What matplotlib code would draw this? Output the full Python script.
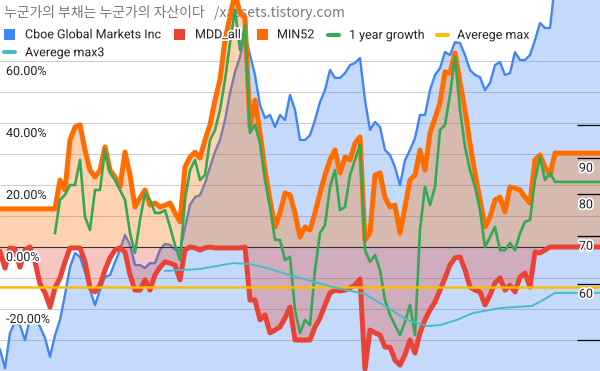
import numpy as np
import matplotlib.pyplot as plt
import matplotlib.patheffects as pe
from matplotlib.patches import Rectangle
from matplotlib.lines import Line2D
from matplotlib.transforms import blended_transform_factory, ScaledTranslation

plt.rcParams['font.family'] = ['Roboto', 'DejaVu Sans']

# weekly samples, the last point is the value carried to the right edge
weeks = list(range(112)) + [120]

cboe = [48.5, 45.7, 51.2, 53.0, 52.5, 50.0, 53.7, 53.7, 52.2, 50.4,
        47.4, 50.8, 53.4, 57.9, 63.3, 66.2, 65.4, 62.3, 58.8, 56.0,
        58.8, 61.3, 61.7, 64.3, 66.9, 70.2, 68.0, 63.7, 63.7, 63.1,
        64.1, 64.1, 66.9, 68.2, 68.0, 66.9, 66.9, 71.8, 77.3, 79.3,
        79.8, 82.9, 87.3, 91.7, 95.3, 101.6, 110.9, 118.6, 124.5, 133.6,
        125.3, 117.5, 106.6, 102.3, 103.3, 99.4, 103.3, 101.6, 110.2, 105.0,
        95.3, 95.3, 96.8, 101.6, 107.7, 111.9, 119.4, 116.4, 116.4, 118.2,
        121.3, 122.1, 124.1, 108.4, 98.4, 101.0, 99.4, 92.3, 90.8, 87.3,
        82.4, 89.3, 92.3, 95.9, 103.3, 103.3, 111.9, 117.5, 120.1, 126.5,
        125.3, 130.6, 130.2, 125.3, 119.4, 117.5, 116.7, 111.9, 114.5, 121.3,
        122.5, 117.5, 118.2, 126.5, 123.3, 123.3, 125.3, 131.5, 138.9, 136.7,
        136.7, 158.0, 158.0]

mdd_all = [-1.6, -6.8, -0.3, -0.6, -6.5, -1.0, 0.0, -4.8, -11.9, -14.8,
           -19.4, -13.2, -10.0, -4.8, -0.3, -0.3, -0.3, -4.8, -13.2, -14.5,
           -12.3, -7.4, -3.5, -1.0, -0.3, -1.6, -9.0, -13.9, -13.9, -10.6,
           -13.9, -9.0, -6.5, -4.8, -5.2, -5.8, -10.6, -1.0, 0.0, -0.3,
           -1.0, -0.3, 0.0, -0.3, -0.3, -0.3, -0.3, -0.3, -0.3, 0.0,
           -17.1, -17.1, -23.5, -21.9, -27.7, -26.8, -25.8, -22.9, -19.4, -30.0,
           -30.0, -30.0, -30.0, -25.8, -22.9, -18.7, -14.8, -13.9, -14.2, -13.9,
           -13.2, -12.3, -10.3, -39.4, -26.8, -27.7, -28.4, -32.3, -32.3, -36.5,
           -38.1, -34.8, -30.0, -34.2, -27.7, -23.5, -20.3, -17.7, -13.9, -10.0,
           -5.8, -3.5, -3.2, -7.4, -12.9, -13.9, -14.5, -18.7, -15.5, -11.6,
           -10.0, -13.9, -12.3, -14.5, -9.7, -8.4, -12.9, -1.6, -1.9, -1.0,
           0.0, 0.0, 0.0]

min52 = [12.3] * 12 + [
    21.6, 18.4, 34.5, 38.7, 39.4, 31.3, 24.8, 22.6, 24.8,
    32.3, 24.8, 22.6, 19.4, 30.6, 23.2, 12.9, 15.8, 18.4, 13.5,
    14.2, 12.9, 13.5, 14.2, 11.0, 8.1, 25.8, 29.0, 30.6, 28.7,
    34.5, 39.4, 47.4, 53.9, 66.8, 74.2, 82.0, 75.5, 73.9, 38.7,
    47.4, 36.8, 24.8, 15.2, 6.5, 11.0, 17.4, 16.8, 11.0, 3.2,
    6.5, 5.5, 11.0, 17.4, 23.2, 28.1, 31.3, 23.9, 29.0, 28.1,
    33.5, 35.5, 2.3, 4.5, 23.2, 23.9, 16.1, 12.9, 13.5, 4.5,
    12.9, 21.6, 23.2, 31.3, 24.8, 36.8, 41.6, 46.5, 56.5, 56.1,
    62.6, 53.2, 44.2, 33.5, 23.9, 15.2, 6.5, 9.7, 15.2, 16.1,
    11.3, 19.4, 19.0, 18.4, 16.1, 14.2, 28.1, 29.7, 25.8, 23.2,
    30.3, 30.3]

growth_1y = [np.nan] * 11 + [
    4.5, 15.2, 16.8, 20.0, 20.0, 28.1, 9.7, 5.5, 18.4, 18.4,
    31.3, 23.9, 21.6, 18.4, 15.2, 4.5, -1.9, 8.7, 17.4, 15.2,
    11.0, 11.0, 11.9, 6.5, 0.6, -4.2, 15.2, 24.8, 28.1, 21.6,
    23.2, 34.5, 37.7, 44.2, 53.9, 65.8, 76.5, 63.5, 71.6, 36.8,
    39.4, 33.5, 21.6, 12.9, 2.3, 2.3, -4.2, -3.2, -20.3, -27.7,
    -23.5, -25.2, -7.4, 4.5, 7.1, 19.4, 24.8, 11.9, 12.9, 23.2,
    28.1, 32.9, -1.0, -4.8, -2.6, -7.4, -17.1, -21.9, -25.2, -28.4,
    -24.2, -18.7, -28.4, 5.5, 19.4, 13.5, 19.4, 37.7, 39.4, 49.0,
    61.3, 44.2, 32.3, 24.8, 19.4, 11.9, 0.0, 3.2, 6.5, -1.0,
    -1.0, 1.3, -1.0, 4.5, 8.1, 8.7, 21.6, 29.0, 21.6, 23.9,
    21.0, 21.0]

avg_max = -12.9

avg_max3_weeks = [33, 40, 46.6, 50, 53.4, 56.6, 60, 66.6, 73, 77.4, 81.4,
                  85.4, 88, 91.4, 94.6, 98, 100, 106.4, 108.6, 111, 120]
avg_max3 = [-7.7, -7.1, -5.2, -5.5, -6.8, -8.4, -10.0, -12.9, -15.2, -19.4, -23.5,
            -25.5, -25.2, -23.5, -21.3, -20.3, -19.7, -19.0, -17.1, -14.8, -14.8]

pct_grid = [-40, -30, -20, -10, 0, 10, 20, 30, 40, 50, 60]
pct_labels = [60, 40, 20, 0, -20]
price_ticks = [50, 60, 70, 80, 90, 100]
price_labels = [60, 70, 80, 90]

BLUE = '#4285F4'
RED = '#EA4335'
ORANGE = '#FF6D01'
GREEN = '#34A853'
YELLOW = '#FBBC04'
CYAN = '#46BDC6'

W, H = 600, 371
fig = plt.figure(figsize=(W / 100, H / 100), dpi=100)
ax_px = fig.add_axes([0, 0, 1, 1])
ax = ax_px.twinx()

ax_px.set_yscale('log')
ax_px.set_ylim(45.29, 149.58)
ax.set_ylim(-40, 79.68)
for a in (ax_px, ax):
    a.set_xlim(0, 120)
    a.set_axis_off()

# gridlines under everything
grid_tr = blended_transform_factory(ax_px.transAxes, ax.transData)
ax_px.hlines(pct_grid, 0, 1, transform=grid_tr, colors='#cccccc', linewidth=0.75, zorder=0)

# price area
ax_px.fill_between(weeks, cboe, 10, color=BLUE, alpha=0.3, linewidth=0, zorder=1)
ax_px.plot(weeks, cboe, color=BLUE, linewidth=1.7, zorder=2, solid_joinstyle='round')

ax_px.text(4 / W, 1 - 17.5 / H, "누군가의 부채는 누군가의 자산이다   /xassets.tistory.com",
           transform=fig.transFigure, family=['Noto Sans CJK KR', 'DejaVu Sans'],
           fontsize=10, color='#7a7a7a', va='baseline', zorder=0)

# percent series
ax.fill_between(weeks, mdd_all, 0, color=RED, alpha=0.3, linewidth=0, zorder=1)
ax.fill_between(weeks, min52, 0, color=ORANGE, alpha=0.3, linewidth=0, zorder=1)
ax.axhline(0, color='#333333', linewidth=0.8, zorder=1.5)
ax.plot(weeks, mdd_all, color=RED, linewidth=3.6, zorder=2, solid_joinstyle='round')
ax.plot(weeks, min52, color=ORANGE, linewidth=3.6, zorder=2.1, solid_joinstyle='round')
ax.plot(weeks, growth_1y, color=GREEN, linewidth=1.9, zorder=2.2, solid_joinstyle='round')
ax.axhline(avg_max, color=YELLOW, linewidth=1.8, zorder=2.3)
ax.plot(avg_max3_weeks, avg_max3, color=CYAN, linewidth=1.4, zorder=2.4)

halo = [pe.withStroke(linewidth=2.5, foreground='white')]
down = ScaledTranslation(0, -14 / 100, fig.dpi_scale_trans)

# left axis labels
for v in pct_labels:
    ax.text(6 / W, v, f"{v:.2f}%", transform=blended_transform_factory(ax.transAxes, ax.transData) + down,
            fontsize=9, color='#222222', ha='left', va='baseline', path_effects=halo, zorder=5)

# right (log) axis ticks and labels
rt = blended_transform_factory(ax.transAxes, ax_px.transData)
ax.hlines(price_ticks, 577 / W, 1, transform=rt, colors='black', linewidth=0.9, zorder=4)
for v in price_labels:
    ax.text(586 / W, v, str(v), transform=rt + down, fontsize=9, color='#222222',
            ha='center', va='baseline', path_effects=halo, zorder=5)

# legend
def px(x, y):
    return x / W, 1 - y / H

legend_items = [
    ('box', BLUE, 4, 34, 25, "Cboe Global Markets Inc"),
    ('box', RED, 174, 34, 195, "MDD_all"),
    ('box', ORANGE, 257, 34, 277, "MIN52"),
    ('line', GREEN, 328, 34.5, 349, "1 year growth"),
    ('line', YELLOW, 437, 34.5, 457, "Averege max"),
    ('line', CYAN, 4, 52, 25, "Averege max3"),
]
for kind, color, mx, my, tx, label in legend_items:
    if kind == 'box':
        x0, y0 = px(mx, my + 5.5)
        fig.add_artist(Rectangle((x0, y0), 11 / W, 11 / H, transform=fig.transFigure,
                                 facecolor=color, edgecolor='none', zorder=6))
    else:
        x0, y0 = px(mx, my)
        x1, _ = px(mx + 11, my)
        fig.add_artist(Line2D([x0, x1], [y0, y0], transform=fig.transFigure, color=color,
                              linewidth=2.9, solid_capstyle='round', zorder=6))
    fig.text(*px(tx, my + 4.3), label, fontsize=9, color='#222222', va='baseline',
             path_effects=halo, zorder=7)

fig.savefig('out.png', dpi=100)
